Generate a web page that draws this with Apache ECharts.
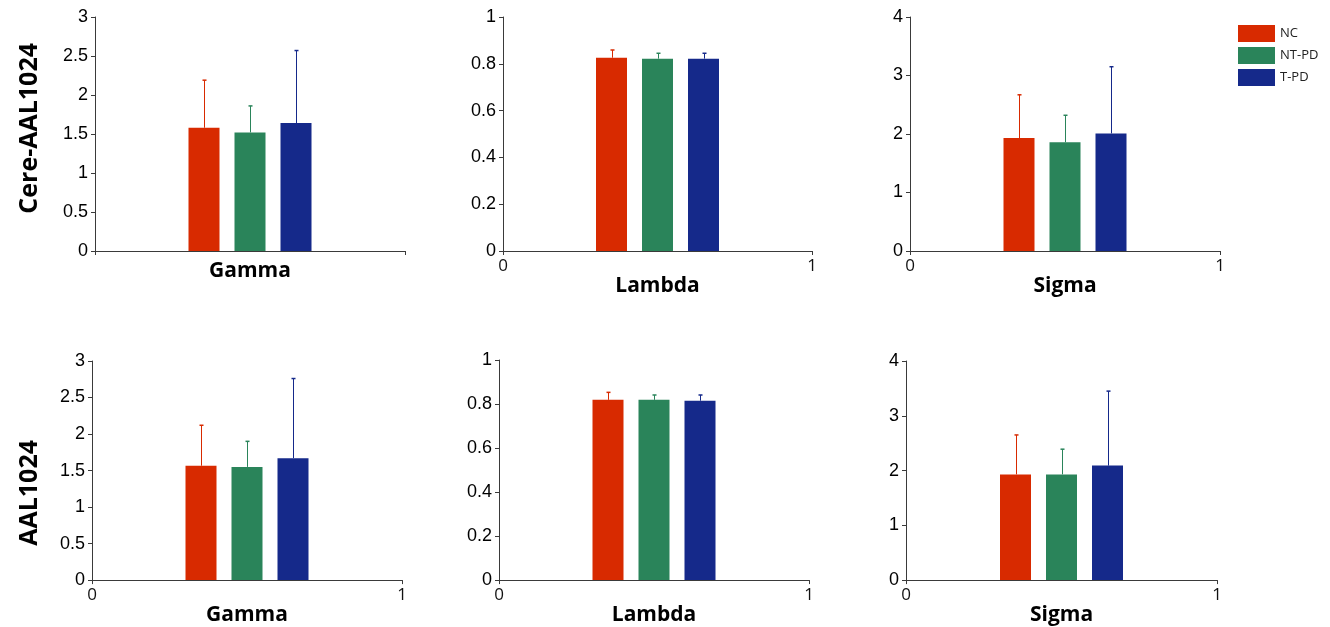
<!DOCTYPE html>
<html>
<head>
<meta charset="utf-8">
<title>Gamma / Lambda / Sigma</title>
<script src="https://cdn.jsdelivr.net/npm/echarts@6/dist/echarts.min.js"></script>
<style>
  html, body { margin: 0; padding: 0; background: #fff; }
  #chart { width: 1330px; height: 627px; }
</style>
</head>
<body>
<div id="chart"></div>
<script>
// groups and panel labels
const groups = ['NC', 'NT-PD', 'T-PD'];
const rowLabels = ['Cere-AAL1024', 'AAL1024'];
const metrics = ['Gamma', 'Lambda', 'Sigma'];
const yMax = [3, 1, 4];
const yStep = [0.5, 0.2, 1];

// mean values (NC, NT-PD, T-PD) and upper error (SD)
const cereGamma = [1.58, 1.52, 1.64];
const cereGammaErr = [0.61, 0.34, 0.93];
const cereLambda = [0.826, 0.822, 0.822];
const cereLambdaErr = [0.033, 0.023, 0.023];
const cereSigma = [1.93, 1.86, 2.01];
const cereSigmaErr = [0.74, 0.46, 1.14];

const aalGamma = [1.566, 1.55, 1.67];
const aalGammaErr = [0.554, 0.35, 1.09];
const aalLambda = [0.819, 0.819, 0.815];
const aalLambdaErr = [0.034, 0.022, 0.026];
const aalSigma = [1.93, 1.93, 2.09];
const aalSigmaErr = [0.72, 0.46, 1.36];

const panelMeans = [[cereGamma, cereLambda, cereSigma], [aalGamma, aalLambda, aalSigma]];
const panelErrs = [[cereGammaErr, cereLambdaErr, cereSigmaErr], [aalGammaErr, aalLambdaErr, aalSigmaErr]];

const colors = ['#d82a00', '#2a845a', '#15298a'];
const BAR_W = 31;
const BAR_GAP = 15;

// grid boxes, row by row
const boxes = [
  [{ left: 95, top: 17, width: 310, height: 234 },
   { left: 503, top: 17, width: 309, height: 234 },
   { left: 910, top: 17, width: 310, height: 234 }],
  [{ left: 92, top: 361, width: 310, height: 235 },
   { left: 499, top: 360, width: 310, height: 234 },
   { left: 906, top: 361, width: 311, height: 235 }]
];

const axisColor = '#3a3a3a';
const grid = [], xAxis = [], yAxis = [], series = [];

function errRender(params, api) {
  const g = api.value(3);
  const base = api.coord([api.value(0), api.value(1)]);
  const top = api.coord([api.value(0), api.value(2)]);
  const x = Math.round(base[0] + (g - 1) * (BAR_W + BAR_GAP)) + 0.5;
  return {
    type: 'group',
    children: [
      { type: 'line', shape: { x1: x, y1: base[1], x2: x, y2: top[1] },
        style: { stroke: colors[g], lineWidth: 1 } },
      { type: 'line', shape: { x1: x - 2, y1: top[1], x2: x + 2, y2: top[1] },
        style: { stroke: colors[g], lineWidth: 1.5 } }
    ]
  };
}

for (let r = 0; r < 2; r++) {
  for (let c = 0; c < 3; c++) {
    const gi = grid.length;
    grid.push(Object.assign({ containLabel: false }, boxes[r][c]));

    // hidden category axis that carries the bars
    xAxis.push({ type: 'category', gridIndex: gi, data: [metrics[c]], show: false });
    // visible 0..1 axis
    xAxis.push({
      type: 'value', gridIndex: gi, position: 'bottom',
      min: 0, max: 1, interval: 1,
      name: metrics[c], nameLocation: 'middle', nameGap: 20,
      nameTextStyle: { fontFamily: 'Open Sans', fontWeight: 'bold', fontSize: 21, color: '#000', verticalAlign: 'middle' },
      axisLine: { show: true, lineStyle: { color: axisColor, width: 1 } },
      axisTick: { show: true, length: 4, lineStyle: { color: axisColor } },
      axisLabel: { show: !(r === 0 && c === 0), margin: 7, fontFamily: 'Open Sans', fontSize: 17, color: '#111' },
      splitLine: { show: false }
    });
    yAxis.push({
      type: 'value', gridIndex: gi,
      min: 0, max: yMax[c], interval: yStep[c],
      axisLine: { show: true, lineStyle: { color: axisColor, width: 1 } },
      axisTick: { show: true, length: 4, lineStyle: { color: axisColor } },
      axisLabel: { margin: 7, fontFamily: 'Liberation Sans', fontSize: 18, color: '#000' },
      splitLine: { show: false }
    });

    const catIdx = gi * 2;
    const means = panelMeans[r][c];
    const errs = panelErrs[r][c];
    groups.forEach((name, g) => {
      series.push({
        name: name, type: 'bar', xAxisIndex: catIdx, yAxisIndex: gi,
        barWidth: BAR_W, barGap: (BAR_GAP / BAR_W * 100) + '%',
        itemStyle: { color: colors[g] },
        data: [means[g]],
        animation: false
      });
    });
    series.push({
      type: 'custom', xAxisIndex: catIdx, yAxisIndex: gi,
      renderItem: errRender,
      encode: { x: 0, y: [1, 2] },
      data: groups.map((n, g) => [0, means[g], means[g] + errs[g], g]),
      z: 5, animation: false, silent: true
    });
  }
}

const chart = echarts.init(document.getElementById('chart'));
chart.setOption({
  backgroundColor: '#fff',
  animation: false,
  color: colors,
  legend: {
    data: groups, orient: 'vertical', left: 1238, top: 25, padding: 0,
    itemWidth: 37, itemHeight: 17, itemGap: 5, icon: 'rect',
    textStyle: { fontFamily: 'Open Sans', fontSize: 13, color: '#222' }
  },
  graphic: [
    { type: 'text', left: 17, top: 129 - 86, rotation: Math.PI / 2,
      style: { text: rowLabels[0], font: 'bold 25px "Open Sans"', fill: '#000' } },
    { type: 'text', left: 17, top: 497 - 57, rotation: Math.PI / 2,
      style: { text: rowLabels[1], font: 'bold 25px "Open Sans"', fill: '#000' } }
  ],
  grid: grid,
  xAxis: xAxis,
  yAxis: yAxis,
  series: series
});
</script>
</body>
</html>
